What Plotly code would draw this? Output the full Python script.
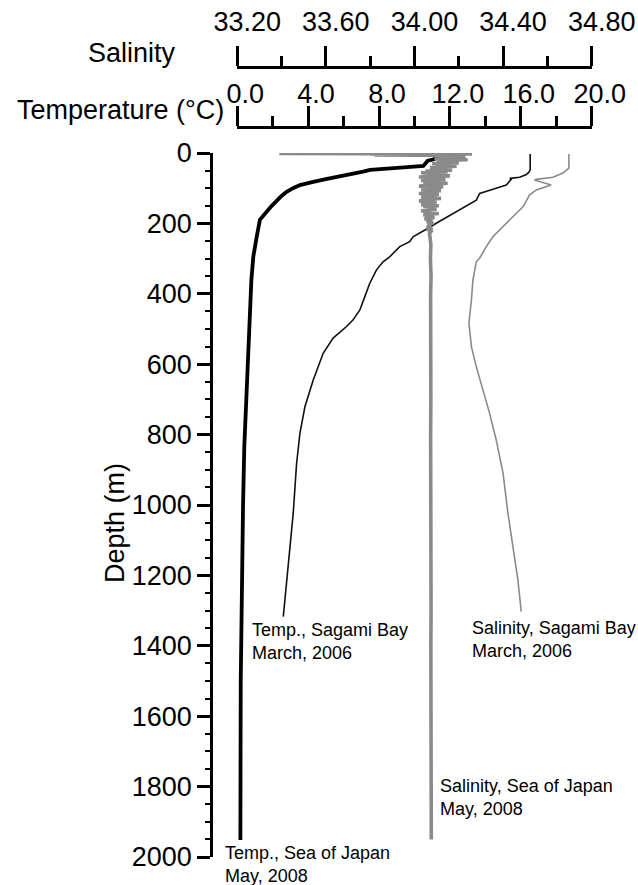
import plotly.graph_objects as go

# ---------------- data ----------------
# Temperature, Sea of Japan, May 2008  (depth m, temperature degC)
soj_temp_depth = [0, 10, 18, 22, 33, 37, 40, 43, 48, 53, 60, 67, 74, 82, 91, 100, 110, 122, 134, 150, 167, 190,
                  238, 294, 360, 418, 500, 597, 700, 835, 1000, 1119, 1250, 1364, 1500, 1696, 1850, 1952]
soj_temp = [11.55, 11.3, 11.1, 10.75, 10.55, 10.5, 9.6, 8.6, 7.5, 7.1, 6.3, 5.61, 5.0, 4.29, 3.54, 3.15, 2.79, 2.5,
            2.23, 1.95, 1.66, 1.28, 1.10, 0.91, 0.80, 0.75, 0.66, 0.57, 0.48, 0.40, 0.33, 0.29, 0.25, 0.21, 0.20,
            0.19, 0.18, 0.18]

# Temperature, Sagami Bay, March 2006
sag_temp_depth = [3, 48, 55, 62, 69, 72, 75, 83, 91, 103, 115, 134, 148, 162, 181, 196, 211, 238, 252, 266, 295,
                  309, 332, 370, 408, 446, 474, 493, 526, 569, 645, 721, 796, 882, 1024, 1166, 1317]
sag_temp = [16.53, 16.53, 16.45, 16.29, 15.93, 15.38, 15.46, 15.3, 15.18, 14.43, 13.68, 13.49, 13.0, 12.55, 11.8,
            11.35, 10.86, 9.92, 9.73, 9.17, 8.6, 8.23, 7.86, 7.48, 7.2, 6.92, 6.54, 6.17, 5.41, 4.85, 4.29, 3.82,
            3.54, 3.35, 3.16, 2.88, 2.6]

# Salinity, Sagami Bay, March 2006
sag_sal_depth = [3, 43, 57, 69, 75, 77, 91, 105, 119, 153, 181, 209, 238, 266, 299, 309, 361, 418, 484, 550, 607,
                 673, 739, 815, 910, 1024, 1118, 1213, 1303]
sag_sal = [34.697, 34.697, 34.67, 34.625, 34.55, 34.542, 34.617, 34.55, 34.52, 34.49, 34.444, 34.40, 34.354,
           34.324, 34.294, 34.279, 34.264, 34.257, 34.246, 34.257, 34.279, 34.309, 34.339, 34.369, 34.40, 34.422,
           34.444, 34.467, 34.482]

# Salinity, Sea of Japan, May 2008 (noisy CTD trace)
soj_sal_depth = [0.5, 1.0, 1.5, 2.5, 3.0, 4.0, 5.5, 7, 9,
                 11, 12.5, 15, 16, 19, 21.5, 23, 25, 28, 30, 33, 36, 37.5, 41, 44, 46, 49,
                 51, 54, 56, 60, 62, 65, 68, 69.5, 73, 75, 78, 81, 82.5, 86, 89, 90.5, 94, 96, 99, 101,
                 104, 107, 109, 112,
                 115, 117, 121, 123, 126, 129, 130.5, 134, 136, 139, 142, 144, 147, 150, 152, 156, 158, 160,
                 164, 167, 169, 172, 175, 178, 180, 184, 187,
                 191, 195, 198, 203, 206, 211, 214, 219, 223, 228,
                 260, 300, 350, 400, 500, 600, 700, 800, 900, 1000, 1100, 1200, 1300, 1400, 1500, 1600, 1700,
                 1800, 1900, 1950]
soj_sal = [34.15, 33.39, 33.80, 34.26, 33.80, 34.20, 33.82, 34.19, 34.12,
           34.23, 34.13, 34.21, 34.09, 34.24, 34.12, 34.17, 34.10, 34.20, 34.08, 34.15, 34.10, 34.19, 34.07,
           34.14, 34.09, 34.17,
           34.05, 34.15, 34.03, 34.12, 34.06, 34.16, 34.02, 34.10, 34.05, 34.14, 34.03, 34.09, 34.06, 34.15,
           34.04, 34.11, 34.02, 34.13, 34.06, 34.10, 34.03, 34.12, 34.05, 34.09,
           34.02, 34.11, 34.05, 34.08, 34.03, 34.12, 34.04, 34.09, 34.02, 34.10, 34.05, 34.08, 34.03, 34.11,
           34.04, 34.09, 34.06, 34.10, 34.03, 34.08, 34.05, 34.11, 34.04, 34.07, 34.05, 34.09, 34.045,
           34.08, 34.055, 34.085, 34.06, 34.075, 34.055, 34.08, 34.065, 34.075, 34.068,
           34.074, 34.072, 34.075, 34.073, 34.074, 34.073, 34.074, 34.073, 34.074, 34.075, 34.074, 34.074,
           34.075, 34.074, 34.075, 34.075, 34.075, 34.076, 34.076, 34.076]

# axis ticks
depth_ticks = [0, 200, 400, 600, 800, 1000, 1200, 1400, 1600, 1800, 2000]
temp_ticks = [0, 4, 8, 12, 16, 20]
temp_minor = [2, 6, 10, 14, 18]
sal_ticks = [33.2, 33.6, 34.0, 34.4, 34.8]
sal_minor = [33.4, 33.8, 34.2, 34.6]

labels = [
    ("Temp., Sagami Bay<br>March, 2006", 250, 641),
    ("Salinity, Sagami Bay<br>March, 2006", 470, 639),
    ("Salinity, Sea of Japan<br>May, 2008", 438, 797),
    ("Temp., Sea of Japan<br>May, 2008", 223, 864),
]

# ---------------- layout geometry (pixels) ----------------
W, H = 638, 885
AX_L, AX_R = 237.2, 591.7        # extent of the two top scale bars
PL, PR = 213, 638                # plot area left/right
PT, PB = 153, 857                # depth 0 / depth 2000
T_LINE, S_LINE = 126.7, 66.7     # y of temperature / salinity scale lines

def fx(px):
    return px / W

def fy(py):
    return 1 - py / H

def lin_range(v0, v1):
    k = (v1 - v0) / (AX_R - AX_L)
    return [v0 + (PL - AX_L) * k, v0 + (PR - AX_L) * k]

FONT = "Liberation Sans, Arial, sans-serif"
GRAY = "#8a8a8a"

fig = go.Figure()
fig.add_trace(go.Scatter(x=soj_sal, y=soj_sal_depth, xaxis="x2", yaxis="y", mode="lines",
                         line=dict(color=GRAY, width=3.6)))
fig.add_trace(go.Scatter(x=sag_sal, y=sag_sal_depth, xaxis="x2", yaxis="y", mode="lines",
                         line=dict(color=GRAY, width=1.6)))
fig.add_trace(go.Scatter(x=sag_temp, y=sag_temp_depth, xaxis="x", yaxis="y", mode="lines",
                         line=dict(color="#111111", width=1.6)))
fig.add_trace(go.Scatter(x=soj_temp, y=soj_temp_depth, xaxis="x", yaxis="y", mode="lines",
                         line=dict(color="#000000", width=3.8)))
# carriers for the two scale bars
fig.add_trace(go.Scatter(x=[None], y=[None], xaxis="x3", yaxis="y", mode="lines"))
fig.add_trace(go.Scatter(x=[None], y=[None], xaxis="x4", yaxis="y", mode="lines"))

tickfont = dict(family=FONT, size=27, color="#000")

fig.update_layout(
    width=W, height=H, margin=dict(l=0, r=0, t=0, b=0, autoexpand=False),
    paper_bgcolor="white", plot_bgcolor="rgba(0,0,0,0)",
    showlegend=False, hovermode=False,
    xaxis=dict(domain=[fx(PL), fx(PR)], range=lin_range(0, 20), visible=False, anchor="y",
               automargin=False),
    xaxis2=dict(domain=[fx(PL), fx(PR)], range=lin_range(33.2, 34.8), visible=False,
                overlaying="x", anchor="y", automargin=False),
    xaxis3=dict(domain=[fx(AX_L), fx(AX_R)], range=[0, 20], anchor="free", position=fy(T_LINE),
                side="top", showline=True, linewidth=3, linecolor="#000",
                ticks="outside", tickmode="array", tickvals=temp_ticks,
                ticktext=[f"{v:.1f}" for v in temp_ticks], ticklen=20, tickwidth=3, tickcolor="#000",
                minor=dict(tickmode="array", tickvals=temp_minor, ticks="outside", ticklen=10,
                           tickwidth=3, tickcolor="#000", showgrid=False),
                tickfont=tickfont, showgrid=False, zeroline=False, ticklabelshift=8,
                ticklabelstandoff=-8, automargin=False),
    xaxis4=dict(domain=[fx(AX_L), fx(AX_R)], range=[33.2, 34.8], anchor="free", position=fy(S_LINE),
                side="top", showline=True, linewidth=3, linecolor="#000",
                ticks="outside", tickmode="array", tickvals=sal_ticks,
                ticktext=[f"{v:.2f}" for v in sal_ticks], ticklen=20, tickwidth=3, tickcolor="#000",
                minor=dict(tickmode="array", tickvals=sal_minor, ticks="outside", ticklen=10,
                           tickwidth=3, tickcolor="#000", showgrid=False),
                tickfont=tickfont, showgrid=False, zeroline=False, ticklabelshift=10,
                ticklabelstandoff=4, automargin=False),
    yaxis=dict(domain=[fy(PB), fy(PT)], range=[2000, 0], anchor="x",
               showline=True, linewidth=2.6, linecolor="#000",
               ticks="outside", tickmode="array", tickvals=depth_ticks, ticklen=13, tickwidth=2.6,
               tickcolor="#000",
               minor=dict(dtick=50, tick0=0, ticks="outside", ticklen=5, tickwidth=2.2, tickcolor="#000",
                          showgrid=False),
               tickfont=tickfont, showgrid=False, zeroline=False, ticklabelstandoff=0, automargin=False),
)

ann = [
    dict(text="Salinity", x=fx(178), y=fy(53), xanchor="right", yanchor="middle"),
    dict(text="Temperature (°C)", x=fx(226), y=fy(110), xanchor="right", yanchor="middle"),
    dict(text="Depth (m)", x=fx(115), y=fy(523), xanchor="center", yanchor="middle", textangle=-90),
]
for a in ann:
    a.update(xref="paper", yref="paper", showarrow=False, font=dict(family=FONT, size=27, color="#000"))
    fig.add_annotation(**a)
for text, px, py in labels:
    fig.add_annotation(text=text, x=fx(px), y=fy(py), xref="paper", yref="paper", showarrow=False,
                       xanchor="left", yanchor="middle", align="left",
                       font=dict(family=FONT, size=18, color="#000"))

fig.write_html("out.html", config={"displayModeBar": False},
               post_script="document.body.style.margin='0';document.body.style.overflow='hidden';")
